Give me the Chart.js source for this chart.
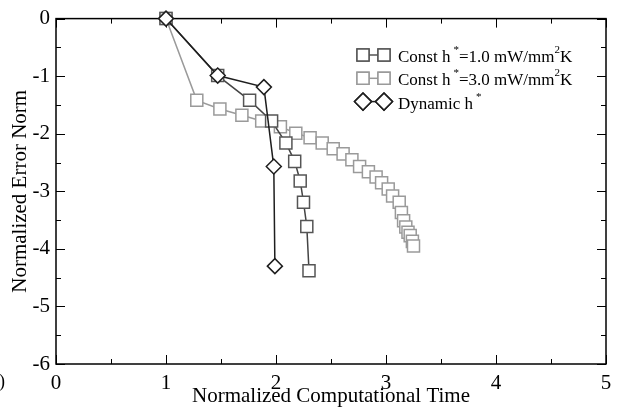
<!DOCTYPE html>
<html>
<head>
<meta charset="utf-8">
<script src="https://cdn.jsdelivr.net/npm/chart.js@4.4.0/dist/chart.umd.min.js"></script>
<style>
  html, body { margin: 0; padding: 0; background: #fff; }
</style>
</head>
<body>
<canvas id="chart" width="617" height="412"></canvas>
<script>
// Const h* = 1.0 mW/mm2K
const lowX = [1.0, 1.47, 1.76, 1.96, 2.09, 2.17, 2.22, 2.25, 2.28, 2.30];
const lowY = [0, -0.99, -1.42, -1.78, -2.16, -2.48, -2.82, -3.19, -3.61, -4.38];

// Const h* = 3.0 mW/mm2K
const highX = [1.0, 1.28, 1.49, 1.69, 1.87, 2.04, 2.18, 2.31, 2.42, 2.52, 2.61, 2.69, 2.76,
               2.84, 2.91, 2.96, 3.02, 3.06, 3.12, 3.14, 3.16, 3.18, 3.20, 3.22, 3.24, 3.25];
const highY = [0, -1.42, -1.57, -1.68, -1.78, -1.88, -1.99, -2.07, -2.16, -2.26, -2.35, -2.45, -2.57,
               -2.66, -2.75, -2.85, -2.96, -3.08, -3.19, -3.37, -3.51, -3.62, -3.71, -3.77, -3.87, -3.95];

// Dynamic h*
const dynX = [1.0, 1.47, 1.89, 1.98, 1.99];
const dynY = [0, -0.99, -1.19, -2.57, -4.30];

const xTicks = [0, 1, 2, 3, 4, 5];
const yTicks = [0, -1, -2, -3, -4, -5, -6];

const FONT = "'Liberation Serif', 'Times New Roman', serif";
const DARK = '#555555';
const LIGHT = '#9a9a9a';
const BLACK = '#1e1e1e';

function pts(xs, ys) {
  return xs.map((x, i) => ({ x: x, y: ys[i] }));
}

// frame round the plot with inward ticks on all four sides
const frame = {
  id: 'frame',
  beforeDatasetsDraw(chart) {
    const { ctx, chartArea: a, scales } = chart;
    ctx.save();
    ctx.strokeStyle = '#000';
    ctx.lineWidth = 1.5;
    ctx.strokeRect(a.left, a.top, a.right - a.left, a.bottom - a.top);
    ctx.lineWidth = 1;
    ctx.beginPath();
    for (let v = xTicks[0]; v <= xTicks[xTicks.length - 1] + 1e-9; v += 0.5) {
      const px = Math.round(scales.x.getPixelForValue(v)) + 0.5;
      const len = Number.isInteger(v) ? 9 : 5;
      ctx.moveTo(px, a.bottom); ctx.lineTo(px, a.bottom - len);
      ctx.moveTo(px, a.top); ctx.lineTo(px, a.top + len);
    }
    for (let v = yTicks[yTicks.length - 1]; v <= yTicks[0] + 1e-9; v += 0.5) {
      const py = Math.round(scales.y.getPixelForValue(v)) + 0.5;
      const len = Number.isInteger(v) ? 9 : 5;
      ctx.moveTo(a.left, py); ctx.lineTo(a.left + len, py);
      ctx.moveTo(a.right, py); ctx.lineTo(a.right - len, py);
    }
    ctx.stroke();
    ctx.restore();
  }
};

// legend: two markers joined by a line, then label with superscripts
const legendRows = [
  { color: DARK, style: 'rect', radius: 8.5, parts: [['Const h', 0], ['*', 1], ['=1.0 mW/mm', 0], ['2', 1], ['K', 0]] },
  { color: LIGHT, style: 'rect', radius: 8.5, parts: [['Const h', 0], ['*', 1], ['=3.0 mW/mm', 0], ['2', 1], ['K', 0]] },
  { color: BLACK, style: 'rectRot', radius: 8.5, parts: [['Dynamic h', 0], ['*', 1]] }
];

const legend = {
  id: 'customLegend',
  afterDraw(chart) {
    const ctx = chart.ctx;
    ctx.save();
    legendRows.forEach((row, i) => {
      const y = 55 + i * 23.3;
      const x1 = 363, x2 = 384;
      ctx.strokeStyle = row.color;
      ctx.lineWidth = 1.5;
      ctx.beginPath(); ctx.moveTo(x1, y); ctx.lineTo(x2, y); ctx.stroke();
      ctx.fillStyle = '#fff';
      const opt = { pointStyle: row.style, radius: row.radius, borderWidth: 1.5, rotation: 0 };
      [x1, x2].forEach(px => {
        Chart.helpers.drawPoint(ctx, opt, px, y);
        ctx.fill(); ctx.stroke();
      });
      let tx = 398;
      ctx.fillStyle = '#000';
      ctx.textBaseline = 'alphabetic';
      row.parts.forEach(([txt, sup]) => {
        if (sup) {
          ctx.font = '11px ' + FONT;
          const gap = txt === '*' ? 3 : 0;
          ctx.fillText(txt, tx + gap, y - 2);
          tx += ctx.measureText(txt).width + gap;
        } else {
          ctx.font = '17px ' + FONT;
          ctx.fillText(txt, tx, y + 7);
          tx += ctx.measureText(txt).width;
        }
      });
    });
    // clipped leftover text at the left edge of the original figure
    ctx.font = '18px ' + FONT;
    ctx.textAlign = 'right';
    ctx.fillText('0)', 5, 387);
    ctx.restore();
  }
};

const config = {
  type: 'line',
  data: {
    datasets: [
      {
        label: 'Dynamic h*',
        data: pts(dynX, dynY),
        borderColor: BLACK,
        backgroundColor: '#fff',
        borderWidth: 1.5,
        pointStyle: 'rectRot',
        pointRadius: 7.5,
        pointBorderWidth: 1.5,
        pointBackgroundColor: '#fff',
        pointBorderColor: BLACK
      },
      {
        label: 'Const h*=1.0 mW/mm2K',
        data: pts(lowX, lowY),
        borderColor: '#444444',
        backgroundColor: '#fff',
        borderWidth: 1.5,
        pointStyle: 'rect',
        pointRadius: 8.5,
        pointBorderWidth: 1.5,
        pointBackgroundColor: '#fff',
        pointBorderColor: DARK
      },
      {
        label: 'Const h*=3.0 mW/mm2K',
        data: pts(highX, highY),
        borderColor: LIGHT,
        backgroundColor: '#fff',
        borderWidth: 1.5,
        pointStyle: 'rect',
        pointRadius: 8.5,
        pointBorderWidth: 1.5,
        pointBackgroundColor: '#fff',
        pointBorderColor: LIGHT
      }
    ]
  },
  options: {
    responsive: false,
    animation: false,
    clip: false,
    layout: { padding: { top: 13, right: 11, left: 0, bottom: 0 } },
    plugins: {
      legend: { display: false },
      tooltip: { enabled: false }
    },
    elements: { line: { tension: 0 } },
    scales: {
      x: {
        type: 'linear',
        min: 0,
        max: 5,
        afterFit(scale) { scale.height = 48; },
        afterBuildTicks(scale) { scale.ticks = xTicks.map(v => ({ value: v })); },
        grid: { display: false },
        border: { display: false },
        ticks: { color: '#000', padding: 0, font: { family: FONT, size: 21, lineHeight: 1.1 } },
        title: {
          display: true,
          text: 'Normalized Computational Time',
          color: '#000',
          padding: { top: 0, bottom: 3 },
          font: { family: FONT, size: 21 }
        }
      },
      y: {
        type: 'linear',
        min: -6,
        max: 0,
        afterFit(scale) { scale.width = 56; },
        afterBuildTicks(scale) { scale.ticks = yTicks.map(v => ({ value: v })); },
        grid: { display: false, drawTicks: false },
        border: { display: false },
        ticks: { color: '#000', padding: 6, font: { family: FONT, size: 21 } },
        title: {
          display: true,
          text: 'Normalized Error Norm',
          color: '#000',
          padding: { top: 8, bottom: 0 },
          font: { family: FONT, size: 21 }
        }
      }
    }
  },
  plugins: [frame, legend]
};

const chart = new Chart(document.getElementById('chart'), config);
</script>
</body>
</html>
